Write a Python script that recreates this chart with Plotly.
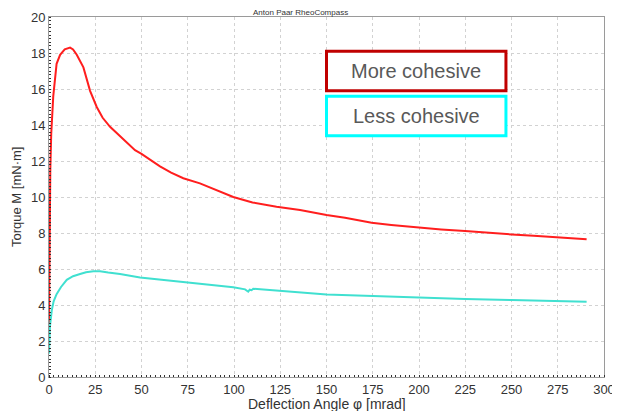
import plotly.graph_objs as go

# deflection angle [mrad] vs torque [mN·m]
more_x = [0, 0.3, 0.7, 1.2, 2.3, 4.1, 6, 8.5, 11.4, 13, 15, 18.6, 22.2, 25.8, 29, 33,
          40.2, 46.5, 50, 54.6, 60, 66, 72.6, 81.6, 90, 99.6, 110, 123, 135.7, 150,
          160, 174.4, 185, 199.6, 212, 224.9, 237, 250.1, 262, 275.3, 283, 290.6]
more_y = [3.0, 8.0, 11.5, 13.5, 15.6, 17.4, 17.9, 18.2, 18.3, 18.2, 17.9, 17.2, 15.9,
          15.0, 14.4, 13.9, 13.2, 12.6, 12.4, 12.06, 11.7, 11.35, 11.04, 10.76, 10.4,
          10.0, 9.7, 9.46, 9.28, 9.0, 8.85, 8.57, 8.45, 8.31, 8.2, 8.11, 8.0, 7.92,
          7.85, 7.76, 7.7, 7.65]

less_x = [0, 0.5, 1.5, 2.5, 4.1, 6.5, 9.6, 13, 16.8, 20, 24, 27.6, 32, 38.4, 49.2, 60,
          74.4, 88.8, 99.6, 106, 107, 107.7, 108.5, 109.5, 110.4, 124.9, 135.7, 150,
          175, 199.6, 224.9, 250, 270, 290.6]
less_y = [1.3, 2.8, 3.7, 4.2, 4.6, 5.0, 5.4, 5.6, 5.72, 5.82, 5.87, 5.87, 5.8, 5.72,
          5.53, 5.42, 5.24, 5.11, 4.98, 4.87, 4.78, 4.74, 4.85, 4.82, 4.9, 4.79, 4.69,
          4.59, 4.5, 4.41, 4.33, 4.28, 4.23, 4.18]

x_ticks = [0, 25, 50, 75, 100, 125, 150, 175, 200, 225, 250, 275, 300]
y_ticks = [0, 2, 4, 6, 8, 10, 12, 14, 16, 18, 20]

font = 'Liberation Sans, Arial, sans-serif'
txt = '#333333'

data = [
    go.Scatter(x=more_x, y=more_y, mode='lines', name='More cohesive',
               line=dict(color='#ff1e1e', width=2)),
    go.Scatter(x=less_x, y=less_y, mode='lines', name='Less cohesive',
               line=dict(color='#40e0d0', width=2)),
]

axis_common = dict(
    showgrid=True, gridcolor='#d2d2d2', griddash='3px,3px', gridwidth=1,
    showline=True, linecolor='#9a9a9a', linewidth=1, mirror=True, zeroline=False,
    ticks='', automargin=False, tickfont=dict(family=font, size=13, color=txt),
)

# page body adds 8px around the figure, so size is reduced by that
layout = go.Layout(
    width=612, height=403,
    margin=dict(l=41, r=16, t=9, b=34),
    paper_bgcolor='white', plot_bgcolor='white',
    showlegend=False,
    font=dict(family=font),
    xaxis=dict(
        axis_common, range=[0, 300], tickvals=x_ticks,
        minor=dict(dtick=2.5, ticks='inside', ticklen=2, tickcolor='#303030', showgrid=False),
    ),
    yaxis=dict(
        axis_common, range=[0, 20], tickvals=y_ticks,
        minor=dict(dtick=0.2, ticks='inside', ticklen=2, tickcolor='#303030', showgrid=False),
    ),
    shapes=[
        dict(type='rect', xref='x', yref='y', x0=150, x1=247, y0=15.9, y1=18.1,
             line=dict(color='#c00000', width=3), fillcolor='white'),
        dict(type='rect', xref='x', yref='y', x0=150, x1=247, y0=13.4, y1=15.6,
             line=dict(color='#00ffff', width=3), fillcolor='white'),
    ],
    annotations=[
        dict(text='Anton Paar RheoCompass', xref='paper', yref='paper', x=0.453, y=1,
             yanchor='middle', yshift=5, showarrow=False,
             font=dict(family=font, size=8, color=txt)),
        dict(text='Deflection Angle φ [mrad]', xref='paper', yref='paper', x=0.5, y=0,
             yanchor='middle', yshift=-27, showarrow=False,
             font=dict(family=font, size=14, color=txt)),
        dict(text='Torque M [mN·m]', xref='paper', yref='paper', x=0, y=0.5,
             xanchor='center', xshift=-33, textangle=-90, showarrow=False,
             font=dict(family=font, size=13, color=txt)),
        dict(text='More cohesive', x=198.5, y=17.0, xref='x', yref='y', showarrow=False,
             font=dict(family=font, size=20, color='#595959')),
        dict(text='Less cohesive', x=198.5, y=14.5, xref='x', yref='y', showarrow=False,
             font=dict(family=font, size=20, color='#595959')),
    ],
)

fig = go.Figure(data=data, layout=layout)
fig.write_html("out.html")
